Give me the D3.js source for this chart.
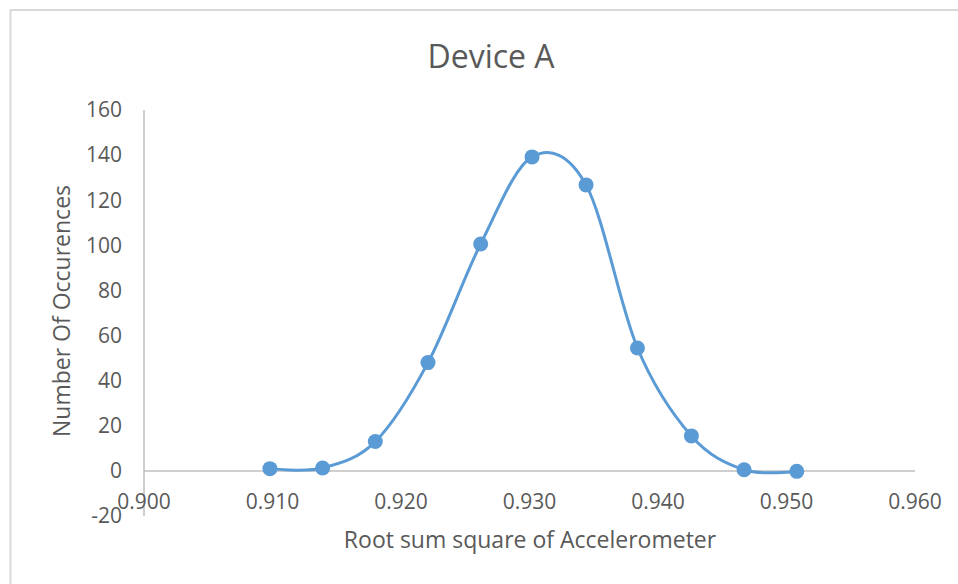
<!DOCTYPE html>
<html>
<head>
<meta charset="utf-8">
<script src="https://cdn.jsdelivr.net/npm/d3@7"></script>
<style>
  body { margin: 0; background: #fff; }
  text { font-family: "Open Sans", sans-serif; fill: #595959; }
</style>
</head>
<body>
<div id="chart"></div>
<script>
//Data

const xValues = [0.9098, 0.9139, 0.9180, 0.9221, 0.9262, 0.9302, 0.9344, 0.9384, 0.9426, 0.9467, 0.9508];
const yValues = [1, 1.3, 13, 48, 100.6, 139.2, 126.8, 54.5, 15.5, 0.5, -0.2];
const xTicks = [0.900, 0.910, 0.920, 0.930, 0.940, 0.950, 0.960];
const yTicks = [-20, 0, 20, 40, 60, 80, 100, 120, 140, 160];

const title = "Device A";
const xTitle = "Root sum square of Accelerometer";
const yTitle = "Number Of Occurences";

//Set Dimensions

var xSize = 958; var ySize = 584;
const plotLeft = 144, plotRight = 915, plotTop = 110, plotBottom = 516;

const svg = d3.select("#chart")
  .append("svg")
  .attr("width", xSize)
  .attr("height", ySize);

//Chart border (only top and left edges show in the picture)

svg.append("path")
  .attr("d", "M10.5,584 V10 H958")
  .attr("fill", "none")
  .attr("stroke", "#d9d9d9")
  .attr("stroke-width", 2);

//Scales

const x = d3.scaleLinear()
  .domain([0.900, 0.960])
  .range([plotLeft, plotRight]);

const y = d3.scaleLinear()
  .domain([-20, 160])
  .range([plotBottom, plotTop]);

//Y axis line and labels

svg.append("line")
  .attr("x1", x(0.900)).attr("x2", x(0.900))
  .attr("y1", y(160)).attr("y2", y(-20))
  .attr("stroke", "#bfbfbf")
  .attr("stroke-width", 1.5);

svg.selectAll(".ytick")
  .data(yTicks)
  .enter().append("text")
  .attr("class", "ytick")
  .attr("x", 122)
  .attr("y", d => y(d))
  .attr("dy", "0.35em")
  .attr("text-anchor", "end")
  .style("font-size", "21px")
  .text(d => d);

//X axis sits at y = 0

svg.append("line")
  .attr("x1", x(0.900)).attr("x2", x(0.960))
  .attr("y1", y(0)).attr("y2", y(0))
  .attr("stroke", "#bfbfbf")
  .attr("stroke-width", 1.5);

svg.selectAll(".xtick")
  .data(xTicks)
  .enter().append("text")
  .attr("class", "xtick")
  .attr("x", d => x(d))
  .attr("y", y(0) + 31)
  .attr("dy", "0.35em")
  .attr("text-anchor", "middle")
  .style("font-size", "21px")
  .text(d => d3.format(".3f")(d));

//Titles

svg.append("text")
  .attr("x", 491)
  .attr("y", 57)
  .attr("dy", "0.35em")
  .attr("text-anchor", "middle")
  .style("font-size", "32px")
  .text(title);

svg.append("text")
  .attr("x", 530)
  .attr("y", 540)
  .attr("dy", "0.35em")
  .attr("text-anchor", "middle")
  .style("font-size", "23px")
  .text(xTitle);

svg.append("text")
  .attr("transform", "translate(62,311) rotate(-90)")
  .attr("dy", "0.35em")
  .attr("text-anchor", "middle")
  .style("font-size", "23px")
  .text(yTitle);

//Smoothed line and markers

const data = xValues.map((d, i) => ({x: d, y: yValues[i]}));

svg.append("path")
  .datum(data)
  .attr("fill", "none")
  .attr("stroke", "#5b9bd5")
  .attr("stroke-width", 3)
  .attr("d", d3.line()
    .curve(d3.curveCardinal.tension(0))
    .x(d => x(d.x))
    .y(d => y(d.y)));

svg.selectAll(".dot")
  .data(data)
  .enter().append("circle")
  .attr("class", "dot")
  .attr("cx", d => x(d.x))
  .attr("cy", d => y(d.y))
  .attr("r", 7.5)
  .attr("fill", "#5b9bd5");
</script>
</body>
</html>
